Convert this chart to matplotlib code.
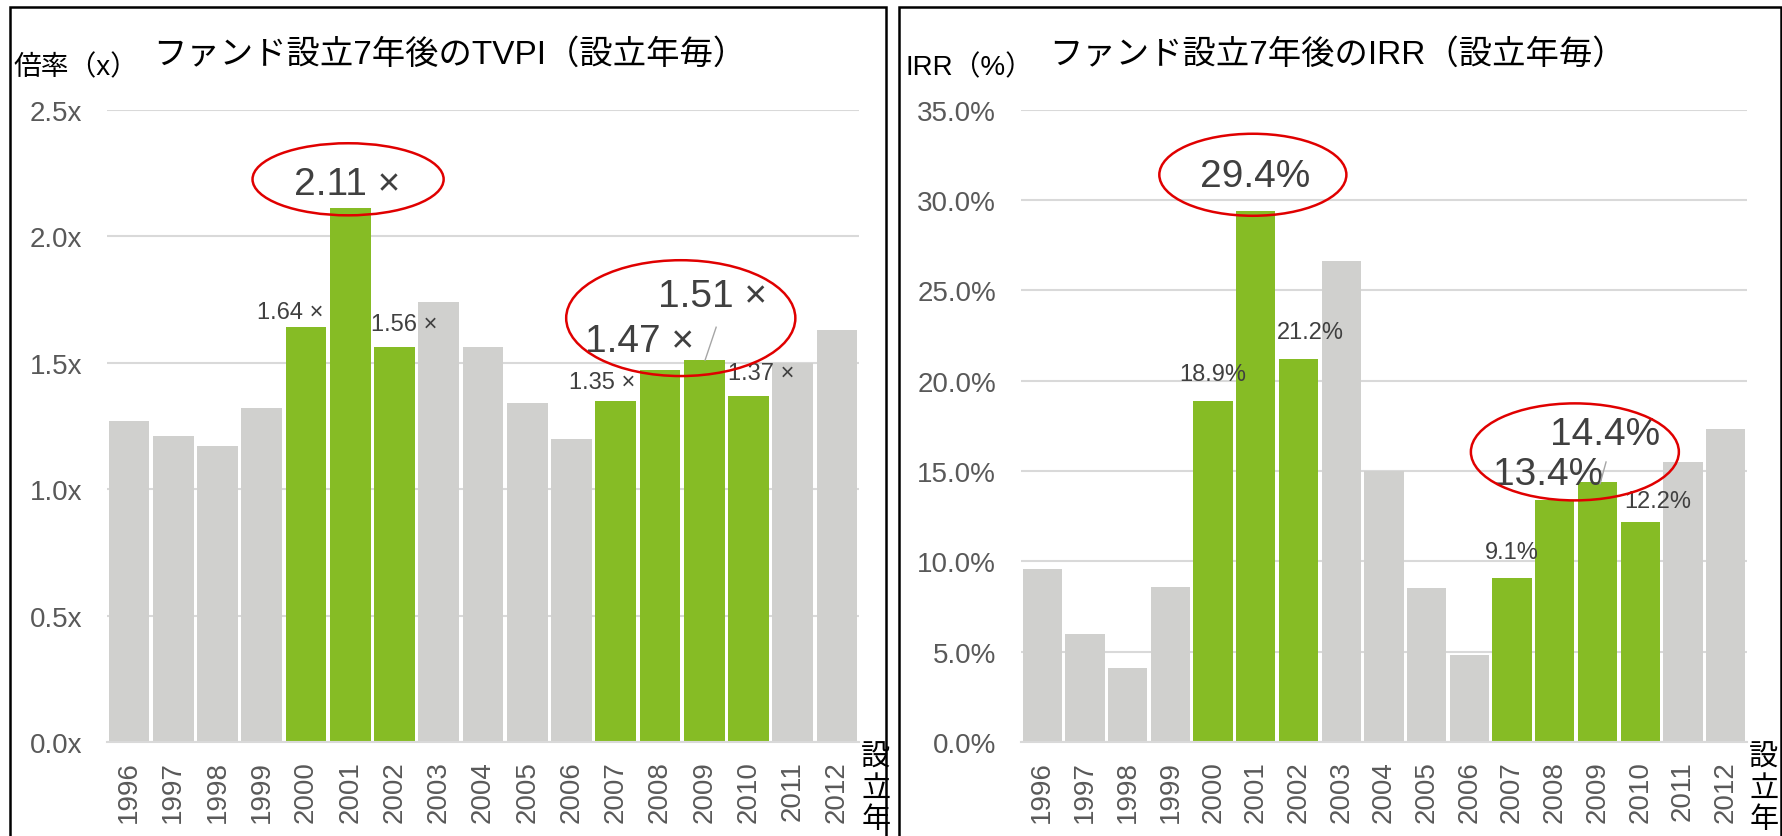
import matplotlib
matplotlib.use("Agg")
import matplotlib.pyplot as plt
from matplotlib.patches import Ellipse, Rectangle

plt.rcParams["font.family"] = ["Liberation Sans", "Noto Sans CJK JP", "DejaVu Sans"]

# data
years = ["1996", "1997", "1998", "1999", "2000", "2001", "2002", "2003", "2004",
         "2005", "2006", "2007", "2008", "2009", "2010", "2011", "2012"]
tvpi = [1.27, 1.21, 1.17, 1.32, 1.64, 2.11, 1.56, 1.74, 1.56,
        1.34, 1.20, 1.35, 1.47, 1.51, 1.37, 1.50, 1.63]
irr = [9.6, 6.0, 4.1, 8.6, 18.9, 29.4, 21.2, 26.6, 15.0,
       8.5, 4.8, 9.1, 13.4, 14.4, 12.2, 15.5, 17.3]
highlight = ["2000", "2001", "2002", "2007", "2008", "2009", "2010"]

GREEN = "#86BC25"
GREY = "#D0D0CE"
GRID = "#D9D9D9"
TXT = "#404040"
TICK = "#595959"
JP = ["Noto Sans CJK JP", "DejaVu Sans"]
MIX = ["Liberation Sans", "Noto Sans CJK JP", "DejaVu Sans"]

# label placement: year -> (dx px, dy px, big?)
tvpi_labels = {"2000": (-16, 15, False), "2001": (-3, 24, True), "2002": (10, 23, False),
               "2007": (-14, 19, False), "2008": (-20, 29, True), "2009": (8, 64, True),
               "2010": (13, 23, False)}
irr_labels = {"2000": (0, 27, False), "2001": (-1, 35, True), "2002": (12, 27, False),
              "2007": (0, 26, False), "2008": (-7, 26, True), "2009": (8, 48, True),
              "2010": (18, 21, False)}

fig = plt.figure(figsize=(17.83, 8.37), dpi=100)
ax1 = fig.add_axes([0.0600, 0.1123, 0.4218, 0.7554])
ax2 = fig.add_axes([0.5726, 0.1123, 0.4072, 0.7554])


def draw_panel(ax, values, labels, fmt, ymax, step, tickfmt):
    x = list(range(len(years)))
    colors = [GREEN if y in highlight else GREY for y in years]
    ax.bar(x, values, width=0.92, color=colors, zorder=2)
    ax.set_xlim(-0.5, len(years) - 0.5)
    ax.set_ylim(0, ymax)
    ticks = [i * step for i in range(int(round(ymax / step)) + 1)]
    ax.set_yticks(ticks)
    ax.set_yticklabels([tickfmt.format(t) for t in ticks])
    ax.set_xticks(x)
    ax.set_xticklabels(years, rotation=90)
    ax.tick_params(axis="y", length=0, pad=18, labelsize=20, labelcolor=TICK)
    ax.tick_params(axis="x", length=0, pad=13, labelsize=20, labelcolor=TICK)
    ax.grid(axis="y", color=GRID, linewidth=1.5, zorder=0)
    ax.set_axisbelow(True)
    for s in ["top", "right", "left"]:
        ax.spines[s].set_visible(False)
    ax.spines["bottom"].set_color(GRID)
    ax.spines["bottom"].set_linewidth(1.5)
    for yr, (dx, dy, big) in labels.items():
        i = years.index(yr)
        ax.annotate(fmt.format(values[i]), xy=(i, values[i]), xytext=(dx, dy),
                    textcoords="offset pixels", ha="center", va="center",
                    fontsize=28 if big else 17, color=TXT, zorder=5)
    ax.text(1.003, 0.0, "設\n立\n年", transform=ax.transAxes, ha="left", va="top",
            fontsize=21, family=JP, linespacing=1.05, color="black")


draw_panel(ax1, tvpi, tvpi_labels, "{:.2f} ×", 2.5, 0.5, "{:.1f}x")
draw_panel(ax2, irr, irr_labels, "{:.1f}%", 35, 5, "{:.1f}%")

# red highlight ellipses
for ax, cx, cy, w, h in [(ax1, 4.95, 2.225, 4.32, 0.285), (ax1, 12.47, 1.676, 5.18, 0.458),
                         (ax2, 4.93, 31.4, 4.38, 4.54), (ax2, 12.47, 16.06, 4.87, 5.37)]:
    ax.add_patch(Ellipse((cx, cy), w, h, fill=False, edgecolor="#E00000",
                         linewidth=1.8, zorder=6, clip_on=False))

# leader lines for the 2009 labels
i9 = years.index("2009")
ax1.plot([i9 + 0.02, i9 + 0.27], [tvpi[i9], tvpi[i9] + 0.13], color="#A6A6A6", lw=1, zorder=5)
ax2.plot([i9 + 0.06, i9 + 0.2], [irr[i9] - 0.1, irr[i9] + 1.1], color="#A6A6A6", lw=1, zorder=5)

# titles and axis captions
fig.text(450 / 1783, 1 - 55 / 837, "ファンド設立7年後のTVPI（設立年毎）", ha="center", va="center",
         fontsize=24, family=MIX, color="black")
fig.text(1337 / 1783, 1 - 55 / 837, "ファンド設立7年後のIRR（設立年毎）", ha="center", va="center",
         fontsize=24, family=MIX, color="black")
fig.text(14 / 1783, 1 - 68 / 837, "倍率（x）", ha="left", va="center",
         fontsize=20, family=MIX, color="black")
fig.text(906 / 1783, 1 - 68 / 837, "IRR（%）", ha="left", va="center",
         fontsize=20, family=MIX, color="black")

# panel frames
fig.add_artist(Rectangle((10 / 1783, -0.05), 876 / 1783, 1.05 - 8 / 837, transform=fig.transFigure,
                         fill=False, edgecolor="black", linewidth=1.8))
fig.add_artist(Rectangle((899 / 1783, -0.05), 882 / 1783, 1.05 - 8 / 837, transform=fig.transFigure,
                         fill=False, edgecolor="black", linewidth=1.8))

fig.savefig("out.png", dpi=100, facecolor="white")
